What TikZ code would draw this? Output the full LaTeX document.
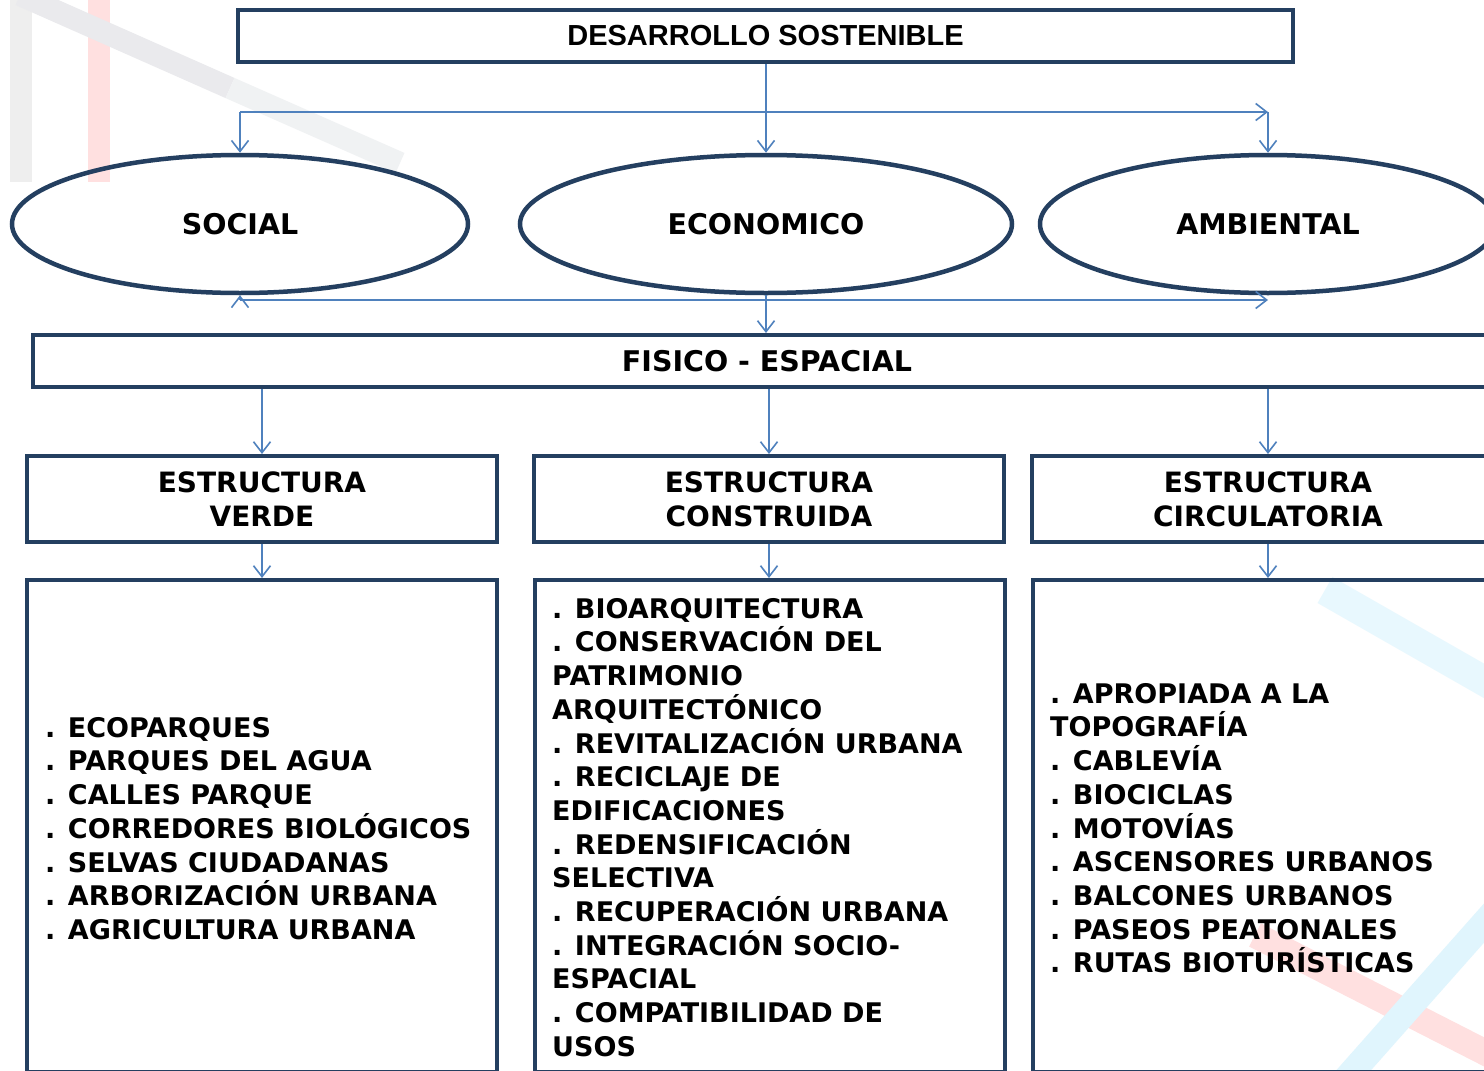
\documentclass[tikz,border=0pt]{standalone}
\usepackage{fontspec}
\setmainfont{DejaVu Sans}
\newfontfamily\titlefont{Liberation Sans}
\usetikzlibrary{shapes.geometric,arrows.meta}
\definecolor{navy}{HTML}{243F60}
\definecolor{arrowblue}{HTML}{4F81BD}
\begin{document}
\begin{tikzpicture}[x=1pt,y=-1pt,
  box/.style={draw=navy, line width=4pt, inner sep=0pt, align=center,
    font=\bfseries\fontsize{28}{34}\selectfont},
  oval/.style={ellipse, draw=navy, line width=4.5pt, inner sep=0pt,
    minimum height=138pt, font=\bfseries\fontsize{28.5}{34}\selectfont},
  list/.style={anchor=north west, inner sep=0pt, align=left,
    font=\bfseries\fontsize{27}{33.7}\selectfont},
  arr/.style={draw=arrowblue, line width=1.6pt,
    -{Straight Barb[length=11pt,width=17pt]}},
  stripe/.style={line width=22pt, line cap=butt}
]
\path[use as bounding box] (0,0) rectangle (1484,1071);
\clip (0,0) rectangle (1484,1071);
\fill[white] (0,0) rectangle (1484,1071);

% faint background stripes
\draw[stripe, gray!13] (21,0) -- (21,182);
\draw[stripe, red!12] (99,0) -- (99,182);
\draw[stripe, blue!8!gray!15] (20,-5) -- (230,88);
\draw[stripe, cyan!10!gray!12] (230,88) -- (400,163);
\draw[stripe, line width=30pt, cyan!9] (1325,590) -- (1500,690);
\draw[stripe, line width=26pt, red!12] (1255,935) -- (1500,1060);
\draw[stripe, line width=26pt, cyan!12] (1345,1080) -- (1500,905);

% top box
\node[box, minimum width=1055pt, minimum height=52pt,
  font=\titlefont\bfseries\fontsize{29}{34}\selectfont] (top) at (765.5,36) {DESARROLLO SOSTENIBLE};

% ellipses
\node[oval, minimum width=456pt] (social) at (240,224) {SOCIAL};
\node[oval, minimum width=492pt] (econ) at (766,224) {ECONOMICO};
\node[oval, minimum width=456pt] (amb) at (1268,224) {AMBIENTAL};

% fisico espacial
\node[box, minimum width=1468pt, minimum height=52pt, font=\bfseries\fontsize{28.5}{34}\selectfont] (fis) at (767,361) {FISICO - ESPACIAL};

% estructura boxes
\node[box, minimum width=470pt, minimum height=86pt] (ev) at (262,499) {ESTRUCTURA\\VERDE};
\node[box, minimum width=470pt, minimum height=86pt] (ec) at (769,499) {ESTRUCTURA\\CONSTRUIDA};
\node[box, minimum width=472pt, minimum height=86pt] (eci) at (1268,499) {ESTRUCTURA\\CIRCULATORIA};

% content boxes
\node[box, minimum width=470pt, minimum height=492pt] (cv) at (262,826) {};
\node[box, minimum width=470pt, minimum height=492pt] (cc) at (770,826) {};
\node[box, minimum width=470pt, minimum height=492pt] (cci) at (1268,826) {};

% lists
\node[list] (lv) at (45,717) {. ECOPARQUES\\. PARQUES DEL AGUA\\. CALLES PARQUE\\. CORREDORES BIOLÓGICOS\\. SELVAS CIUDADANAS\\. ARBORIZACIÓN URBANA\\. AGRICULTURA URBANA};
\node[list] (lc) at (552,598) {. BIOARQUITECTURA\\. CONSERVACIÓN DEL\\PATRIMONIO\\ARQUITECTÓNICO\\. REVITALIZACIÓN URBANA\\. RECICLAJE DE\\EDIFICACIONES\\. REDENSIFICACIÓN\\SELECTIVA\\. RECUPERACIÓN URBANA\\. INTEGRACIÓN SOCIO-\\ESPACIAL\\. COMPATIBILIDAD DE\\USOS};
\node[list] (lci) at (1050,683) {. APROPIADA A LA\\TOPOGRAFÍA\\. CABLEVÍA\\. BIOCICLAS\\. MOTOVÍAS\\. ASCENSORES URBANOS\\. BALCONES URBANOS\\. PASEOS PEATONALES\\. RUTAS BIOTURÍSTICAS};

% connectors, top part
\coordinate (tl) at (social.north |- 0,112);
\coordinate (tr) at (amb.north |- 0,112);
\draw[arr] (econ.north |- top.south) -- (econ.north);
\draw[arr] (tl) -- (social.north);
\draw[arr] (tl) -- (tr);
\draw[arr] (tr) -- (amb.north);

% connectors, below ellipses
\coordinate (bl) at (social.south |- 0,300);
\coordinate (br) at (amb.south |- 0,300);
\draw[arr] (bl) -- (social.south);
\draw[arr] (bl) -- (br);
\draw[arr] (econ.south) -- (econ.south |- fis.north);

% fisico to estructuras
\draw[arr] (ev.north |- fis.south) -- (ev.north);
\draw[arr] (ec.north |- fis.south) -- (ec.north);
\draw[arr] (eci.north |- fis.south) -- (eci.north);

% estructuras to lists
\draw[arr] (ev.south) -- (ev.south |- cv.north);
\draw[arr] (ec.south) -- (ec.south |- cc.north);
\draw[arr] (eci.south) -- (eci.south |- cci.north);
\end{tikzpicture}
\end{document}
